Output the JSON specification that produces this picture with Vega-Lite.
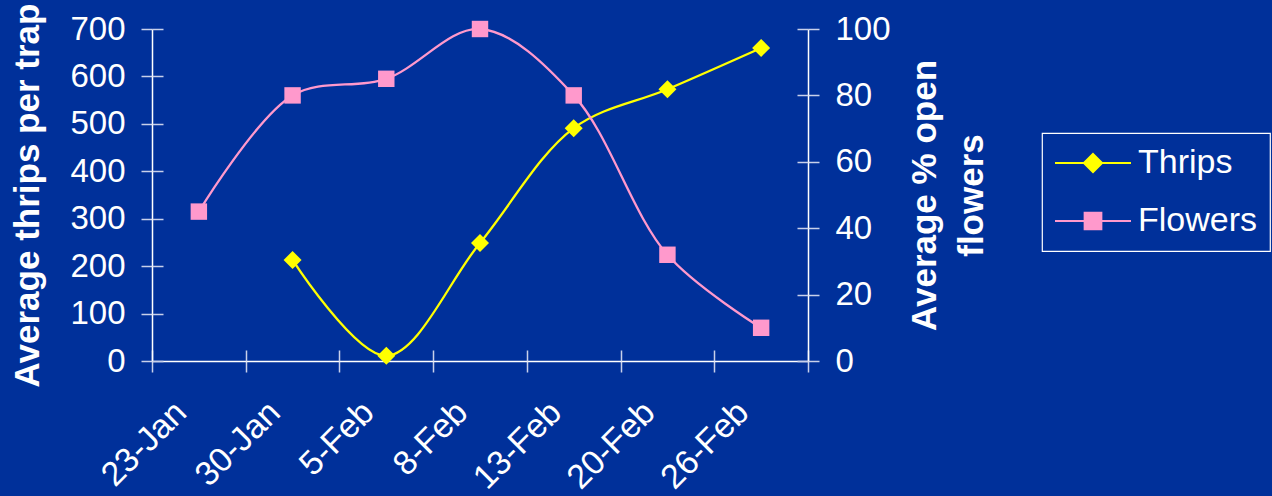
{
  "$schema": "https://vega.github.io/schema/vega-lite/v6.json",
  "width": 656,
  "height": 332,
  "autosize": {"type": "none"},
  "padding": {"left": 152, "top": 29, "right": 464, "bottom": 135},
  "background": "#00309a",
  "config": {
    "view": {"stroke": null},
    "font": "Liberation Sans",
    "axis": {
      "grid": false,
      "labelFont": "Liberation Sans",
      "labelColor": "white",
      "labelFontSize": 33,
      "titleFont": "Liberation Sans",
      "titleColor": "white",
      "titleFontSize": 35,
      "titleFontWeight": "bold",
      "domainColor": "white",
      "domainWidth": 1.5,
      "tickColor": "#c8d0ea",
      "tickWidth": 1.5
    }
  },
  "data": {
    "values": [
      {"date": "23-Jan", "thrips": null, "flowers": 45},
      {"date": "30-Jan", "thrips": 213, "flowers": 80},
      {"date": "5-Feb", "thrips": 11, "flowers": 85},
      {"date": "8-Feb", "thrips": 249, "flowers": 100},
      {"date": "13-Feb", "thrips": 491, "flowers": 80},
      {"date": "20-Feb", "thrips": 573, "flowers": 32},
      {"date": "26-Feb", "thrips": 660, "flowers": 10}
    ]
  },
  "layer": [
    {
      "mark": {"type": "line", "interpolate": "catmull-rom", "strokeWidth": 2.3},
      "encoding": {
        "x": {
          "field": "date", "type": "ordinal", "sort": null,
          "scale": {"type": "band", "domain": ["23-Jan", "30-Jan", "5-Feb", "8-Feb", "13-Feb", "20-Feb", "26-Feb"], "paddingInner": 0, "paddingOuter": 0},
          "axis": {"orient": "bottom", "title": null, "tickBand": "extent", "tickSize": 11, "labelAngle": -45, "labelAlign": "right", "labelBaseline": "middle", "labelPadding": 35, "labelOffset": -18, "labelFontSize": 34}
        },
        "y": {
          "field": "thrips", "type": "quantitative",
          "scale": {"domain": [0, 700]},
          "axis": {"orient": "left", "values": [0, 100, 200, 300, 400, 500, 600, 700], "tickSize": 11, "labelPadding": 16, "title": "Average thrips per trap", "titlePadding": 24}
        },
        "color": {
          "datum": "Thrips",
          "scale": {"domain": ["Thrips", "Flowers"], "range": ["#ffff00", "#ff99cc"]},
          "legend": {
            "title": null,
            "orient": "none",
            "legendX": 890,
            "legendY": 104,
            "strokeColor": "white",
            "padding": 12,
            "clipHeight": 36,
            "rowPadding": 22,
            "symbolSize": 5776,
            "labelOffset": 6,
            "labelFont": "Liberation Sans",
            "labelFontSize": 34,
            "labelColor": "white",
            "labelLimit": 300,
            "encode": {
              "legend": {"update": {"strokeWidth": {"value": 1.2}}},
              "symbols": {
                "update": {
                  "shape": {"signal": "datum.value === 'Thrips' ? 'M-1,0H1M0,-0.24L0.24,0L0,0.24L-0.24,0Z' : 'M-1,0H1M-0.22,-0.22H0.22V0.22H-0.22Z'"},
                  "fill": {"scale": "color", "field": "value"},
                  "stroke": {"scale": "color", "field": "value"},
                  "strokeWidth": {"value": 2},
                  "size": {"value": 5776},
                  "opacity": {"value": 1}
                }
              }
            }
          }
        }
      }
    },
    {
      "mark": {"type": "point", "shape": "diamond", "filled": true, "size": 324, "opacity": 1},
      "encoding": {
        "x": {
          "field": "date", "type": "ordinal", "sort": null,
          "axis": {"orient": "bottom", "title": null, "labels": false, "domain": false, "tickBand": "extent", "tickSize": -11}
        },
        "y": {
          "field": "thrips", "type": "quantitative",
          "scale": {"domain": [0, 700]},
          "axis": {"orient": "left", "values": [0, 100, 200, 300, 400, 500, 600, 700], "labels": false, "domain": false, "tickSize": -11, "title": null}
        },
        "color": {"datum": "Thrips"}
      }
    },
    {
      "mark": {"type": "line", "interpolate": "catmull-rom", "strokeWidth": 2.3},
      "encoding": {
        "x": {"field": "date", "type": "ordinal", "sort": null, "axis": null},
        "y": {
          "field": "flowers", "type": "quantitative",
          "scale": {"domain": [0, 100]},
          "axis": {"orient": "right", "values": [0, 20, 40, 60, 80, 100], "tickSize": 11, "labelPadding": 16, "title": ["Average % open", "flowers"], "titleAngle": -90, "titleBaseline": "top", "titleLineHeight": 47, "titlePadding": -30}
        },
        "color": {"datum": "Flowers"}
      }
    },
    {
      "mark": {"type": "point", "shape": "square", "filled": true, "size": 270, "opacity": 1},
      "encoding": {
        "x": {"field": "date", "type": "ordinal", "sort": null, "axis": null},
        "y": {
          "field": "flowers", "type": "quantitative",
          "scale": {"domain": [0, 100]},
          "axis": {"orient": "right", "values": [0, 20, 40, 60, 80, 100], "labels": false, "domain": false, "tickSize": -11, "title": null}
        },
        "color": {"datum": "Flowers"}
      }
    }
  ],
  "resolve": {"scale": {"y": "independent"}, "axis": {"x": "independent", "y": "independent"}}
}
